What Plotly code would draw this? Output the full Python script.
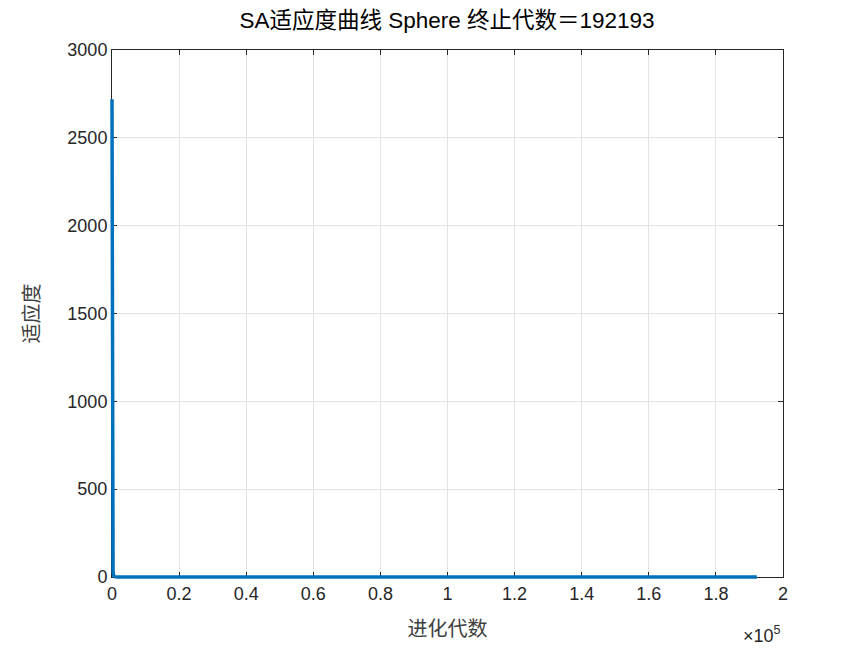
import plotly.graph_objects as go

# ==========================================================
# Data
# ==========================================================

generations = [1, 30, 60, 100, 150, 220, 320, 500, 800, 1500, 5000, 192193]
fitness = [2720, 2000, 1300, 700, 300, 100, 30, 8, 2, 0.5, 0.1, 0.0]

x_ticks = [0, 20000, 40000, 60000, 80000, 100000, 120000, 140000, 160000, 180000, 200000]
x_tick_text = ["0", "0.2", "0.4", "0.6", "0.8", "1", "1.2", "1.4", "1.6", "1.8", "2"]
y_ticks = [0, 500, 1000, 1500, 2000, 2500, 3000]

x_range = [0, 200000]
y_range = [0, 3000]

title_text = "SA适应度曲线 Sphere 终止代数＝192193"

# ==========================================================
# Geometry
# ==========================================================

# visible axes box is 671 x 527 px; the curve sits on a hidden,
# slightly larger subplot so the thick line is not clipped at the box edge
box_w, box_h = 671, 527
pad = 3
full_w, full_h = box_w + 2 * pad, box_h + 2 * pad

x_per_px = (x_range[1] - x_range[0]) / box_w
y_per_px = (y_range[1] - y_range[0]) / box_h

x_range_pad = [x_range[0] - pad * x_per_px, x_range[1] + pad * x_per_px]
y_range_pad = [y_range[0] - pad * y_per_px, y_range[1] + pad * y_per_px]

x_dom = [pad / full_w, 1 - pad / full_w]
y_dom = [pad / full_h, 1 - pad / full_h]

# ==========================================================
# Figure
# ==========================================================

fig = go.Figure()

# invisible copy on the visible axes so they get drawn
fig.add_trace(
    go.Scatter(
        x=generations,
        y=fitness,
        mode="lines",
        line=dict(color="rgba(0,0,0,0)", width=0),
        hoverinfo="skip",
        showlegend=False,
    )
)

fig.add_trace(
    go.Scatter(
        x=generations,
        y=fitness,
        mode="lines",
        line=dict(color="#0072BD", width=3.5),
        showlegend=False,
        xaxis="x2",
        yaxis="y2",
    )
)

axis_style = dict(
    showline=True,
    linecolor="#262626",
    linewidth=1,
    mirror="ticks",
    ticks="inside",
    ticklen=5,
    tickcolor="#262626",
    showgrid=True,
    gridcolor="#e3e3e3",
    gridwidth=1,
    zeroline=False,
    tickfont=dict(family="Liberation Sans, Arial", size=18, color="#262626"),
)

fig.update_layout(
    xaxis=dict(
        range=x_range,
        domain=x_dom,
        tickvals=x_ticks,
        ticktext=x_tick_text,
        title=dict(
            text="进化代数",
            font=dict(family="Noto Sans CJK SC", size=20, color="#404040"),
            standoff=19,
        ),
        **axis_style,
    ),
    yaxis=dict(
        range=y_range,
        domain=y_dom,
        tickvals=y_ticks,
        title=dict(
            text="适应度",
            font=dict(family="Noto Sans CJK SC", size=20, color="#404040"),
            standoff=22,
        ),
        **axis_style,
    ),
    xaxis2=dict(range=x_range_pad, domain=[0, 1], anchor="y2", visible=False, fixedrange=True),
    yaxis2=dict(range=y_range_pad, domain=[0, 1], anchor="x2", visible=False, fixedrange=True),
)

fig.add_annotation(
    text="×10<sup>5</sup>",
    xref="paper",
    yref="paper",
    x=x_dom[1],
    y=y_dom[0] - 44 / full_h,
    xanchor="right",
    yanchor="top",
    showarrow=False,
    font=dict(family="Liberation Sans, Arial", size=18, color="#262626"),
)

# page body has an 8px margin, so margins are shifted to keep the plot box in place
fig.update_layout(
    width=865,
    height=649,
    margin=dict(l=104 - pad, r=90 - pad, t=42 - pad, b=80 - pad),
    paper_bgcolor="white",
    plot_bgcolor="rgba(0,0,0,0)",
    title=dict(
        text=title_text,
        x=0.5075,
        xanchor="center",
        y=0.982,
        yanchor="middle",
        font=dict(family="Liberation Sans, Noto Sans CJK SC", size=22.5, color="#000000"),
    ),
)

fig.write_html("out.html")
